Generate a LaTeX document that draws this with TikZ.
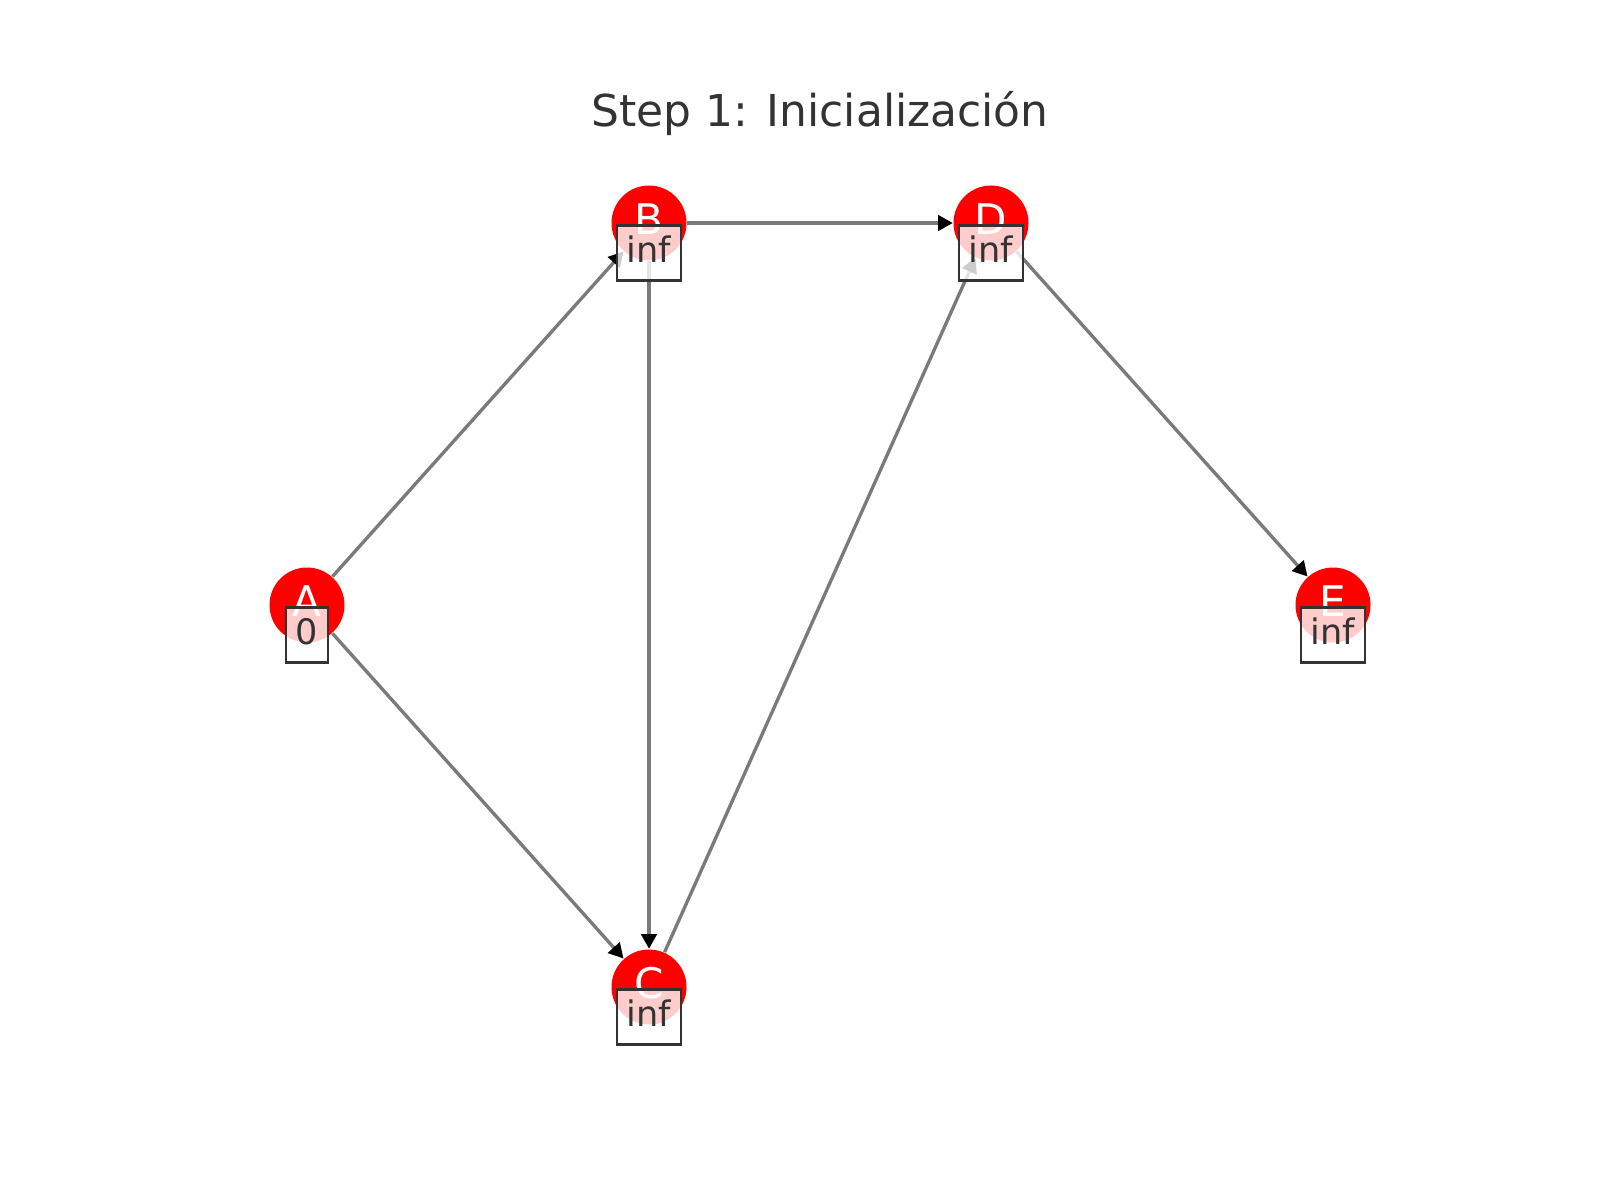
\documentclass[tikz,border=0pt]{standalone}
\usepackage{fontspec}
\setmainfont{DejaVu Sans}
\usepackage{xcolor}
\usetikzlibrary{arrows.meta}
\definecolor{txtgray}{HTML}{333333}
\definecolor{edgegray}{HTML}{7a7a7a}

\begin{document}
\begin{tikzpicture}[
  vertex/.style={circle, fill=red, minimum size=0.75cm, inner sep=0pt},
  letter/.style={text=white, font=\fontsize{12}{14}\selectfont, inner sep=0pt},
  distbox/.style={draw=txtgray, line width=0.6pt, fill=white, fill opacity=0.8, text opacity=1,
    text=txtgray, font=\fontsize{10}{12}\selectfont, minimum height=0.55cm, text depth=0.08cm,
    inner xsep=2.9pt, inner ysep=0pt},
  edge/.style={draw=edgegray, line width=0.95pt, -{Triangle[black, length=4.2pt, width=4.4pt]}}
]
\useasboundingbox (0,0) rectangle (16,12);

% title
\node [text=txtgray, font=\fontsize{12.5}{15}\selectfont, anchor=base] (title) at (8.2,10.73) {Step 1: Inicialización};

% vertices
\node [vertex] (A) at (3.07,5.95) {};
\node [vertex] (B) at (6.49,9.77) {};
\node [vertex] (C) at (6.49,2.13) {};
\node [vertex] (D) at (9.91,9.77) {};
\node [vertex] (E) at (13.33,5.95) {};

% edges
\draw [edge] (A) -- (B);
\draw [edge] (A) -- (C);
\draw [edge] (B) -- (D);
\draw [edge] (B) -- (C);
\draw [edge] (C) -- (D);
\draw [edge] (D) -- (E);

% names
\node [letter] (nA) at ([yshift=0.04cm]A.center) {A};
\node [letter] (nB) at ([yshift=0.04cm]B.center) {B};
\node [letter] (nC) at ([yshift=0.04cm]C.center) {C};
\node [letter] (nD) at ([yshift=0.04cm]D.center) {D};
\node [letter] (nE) at ([yshift=0.04cm]E.center) {E};

% distances
\node [distbox] (dA) at ([yshift=-0.3cm]A.center) {0};
\node [distbox] (dB) at ([yshift=-0.3cm]B.center) {inf};
\node [distbox] (dC) at ([yshift=-0.3cm]C.center) {inf};
\node [distbox] (dD) at ([yshift=-0.3cm]D.center) {inf};
\node [distbox] (dE) at ([yshift=-0.3cm]E.center) {inf};
\end{tikzpicture}
\end{document}
